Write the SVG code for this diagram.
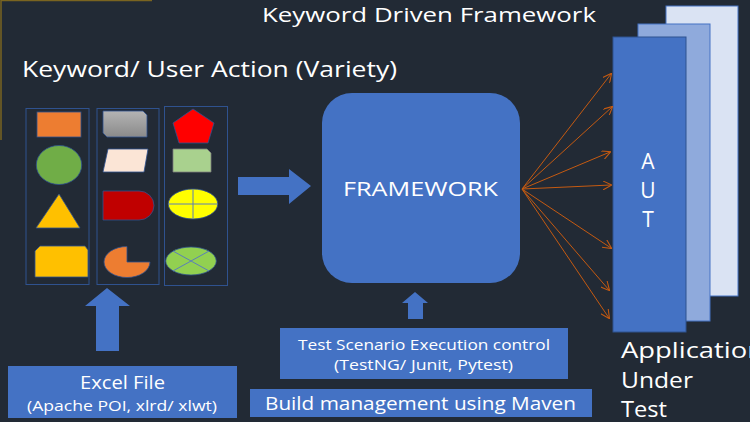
<svg xmlns="http://www.w3.org/2000/svg" width="750" height="422" viewBox="0 0 750 422">
<defs>
<style>
text{font-family:"Open Sans","Noto Sans",sans-serif;fill:#ffffff}
.blue{fill:#4472c4}
.col{fill:none;stroke:#2f528f;stroke-width:1}
.shp{stroke:#2f528f;stroke-width:0.8}
.fan{stroke:#c55a11;stroke-width:1;fill:none;marker-end:url(#ah)}
</style>
<marker id="ah" viewBox="0 0 10 10" refX="9" refY="5" markerWidth="9" markerHeight="9" markerUnits="userSpaceOnUse" orient="auto">
<path d="M0,0 L10,5 L0,10" fill="none" stroke="#c55a11" stroke-width="1.2"/>
</marker>
<linearGradient id="gray" x1="0" y1="0" x2="0" y2="1">
<stop offset="0" stop-color="#b4b4b4"/>
<stop offset="1" stop-color="#8a8a8a"/>
</linearGradient>
</defs>
<rect width="750" height="422" fill="#222a35"/>
<path d="M1,140 V0.5 H152" fill="none" stroke="#7a6420" stroke-width="1.5"/>

<text x="262" y="22" font-size="20.5" textLength="334" lengthAdjust="spacingAndGlyphs">Keyword Driven Framework</text>
<text x="22" y="77" font-size="21" textLength="375" lengthAdjust="spacingAndGlyphs">Keyword/ User Action (Variety)</text>

<g id="keywords">
<rect class="col" x="26" y="108.5" width="63" height="176"/>
<rect class="col" x="97" y="108.5" width="62" height="176"/>
<rect class="col" x="164.5" y="106.5" width="63" height="179"/>
<rect x="37" y="112" width="44" height="25" fill="#ed7d31" class="shp"/>
<ellipse cx="59" cy="165" rx="22.7" ry="19.5" fill="#70ad47" class="shp"/>
<polygon points="59,194 80,228 36,228" fill="#ffc000" class="shp"/>
<polygon points="40,246 85,246 88,250 88,277 35,277 35,251" fill="#ffc000" class="shp"/>
<polygon points="103,111 143,111 147,115 147,137 107,137 103,133" fill="url(#gray)" class="shp"/>
<polygon points="108,149 148,149 144,172 103,172" fill="#fbe5d6" class="shp"/>
<path d="M103,191 H139 A15,14.5 0 0 1 139,220 H103 Z" fill="#c00000" class="shp"/>
<path d="M127,262 V246.5 A23,15.5 0 1 0 150,262 Z" fill="#ed7d31" class="shp"/>
<polygon points="193,109 214,123 208,143 179,143 173,123" fill="#ff0000" class="shp"/>
<polygon points="173,149 207,149 211,153 211,172 173,172" fill="#a9d18e" stroke="#7f7f7f" stroke-width="0.8"/>
<ellipse cx="193" cy="204" rx="24.7" ry="15" fill="#ffff00" class="shp"/>
<path d="M168.3,204 H217.7 M193,189 V219" stroke="#5b7fb8" stroke-width="1"/>
<ellipse cx="191" cy="261" rx="25.3" ry="14" fill="#92d050" class="shp"/>
<path d="M173.1,251.1 L208.9,270.9 M208.9,251.1 L173.1,270.9" stroke="#5b7fb8" stroke-width="1"/>
</g>

<g id="framework">
<rect class="blue" x="322" y="93" width="198" height="190" rx="30"/>
<text x="343" y="196" font-size="19.5" textLength="155" lengthAdjust="spacingAndGlyphs">FRAMEWORK</text>
</g>

<g id="aut">
<rect x="666" y="6" width="72" height="290" fill="#dae3f3" stroke="#4472c4" stroke-width="1"/>
<rect x="638" y="24" width="72" height="297" fill="#8faadc" stroke="#4472c4" stroke-width="1"/>
<rect x="613" y="37" width="73" height="295" fill="#4472c4" stroke="#2f528f" stroke-width="1"/>
<text x="648" y="169" font-size="21" text-anchor="middle">A</text>
<text x="648" y="198" font-size="21" text-anchor="middle">U</text>
<text x="648" y="227" font-size="21" text-anchor="middle">T</text>
<text x="621" y="358" font-size="21" textLength="143" lengthAdjust="spacingAndGlyphs">Application</text>
<text x="621" y="388" font-size="21" textLength="72" lengthAdjust="spacingAndGlyphs">Under</text>
<text x="621" y="417" font-size="21" textLength="46" lengthAdjust="spacingAndGlyphs">Test</text>
</g>

<g id="excel">
<rect class="blue" x="8" y="366" width="229" height="52"/>
<text x="80" y="389" font-size="17.5" textLength="85" lengthAdjust="spacingAndGlyphs">Excel File</text>
<text x="27" y="411" font-size="15" textLength="190" lengthAdjust="spacingAndGlyphs">(Apache POI, xlrd/ xlwt)</text>
</g>

<g id="testscenario">
<rect class="blue" x="280" y="328" width="288" height="51"/>
<text x="298" y="350" font-size="14.5" textLength="252" lengthAdjust="spacingAndGlyphs">Test Scenario Execution control</text>
<text x="334" y="370" font-size="14.5" textLength="179" lengthAdjust="spacingAndGlyphs">(TestNG/ Junit, Pytest)</text>
</g>

<g id="build">
<rect class="blue" x="250" y="389" width="342" height="28"/>
<text x="265" y="410" font-size="19" textLength="311" lengthAdjust="spacingAndGlyphs">Build management using Maven</text>
</g>

<g id="connectors">
<polygon class="blue" points="238,177 289,177 289,169 311,186 289,204 289,195 238,195"/>
<polygon class="blue" points="107,288 130,306 119,306 119,351 96,351 96,306 85,306"/>
<polygon class="blue" points="415,292 428,303 423,303 423,319 408,319 408,303 402,303"/>
<line class="fan" x1="522" y1="189" x2="611" y2="74"/>
<line class="fan" x1="522" y1="189" x2="612" y2="107"/>
<line class="fan" x1="522" y1="189" x2="610" y2="152"/>
<line class="fan" x1="522" y1="189" x2="611" y2="185"/>
<line class="fan" x1="522" y1="189" x2="611" y2="248"/>
<line class="fan" x1="522" y1="189" x2="609" y2="290"/>
<line class="fan" x1="522" y1="189" x2="609" y2="318"/>
</g>
</svg>
